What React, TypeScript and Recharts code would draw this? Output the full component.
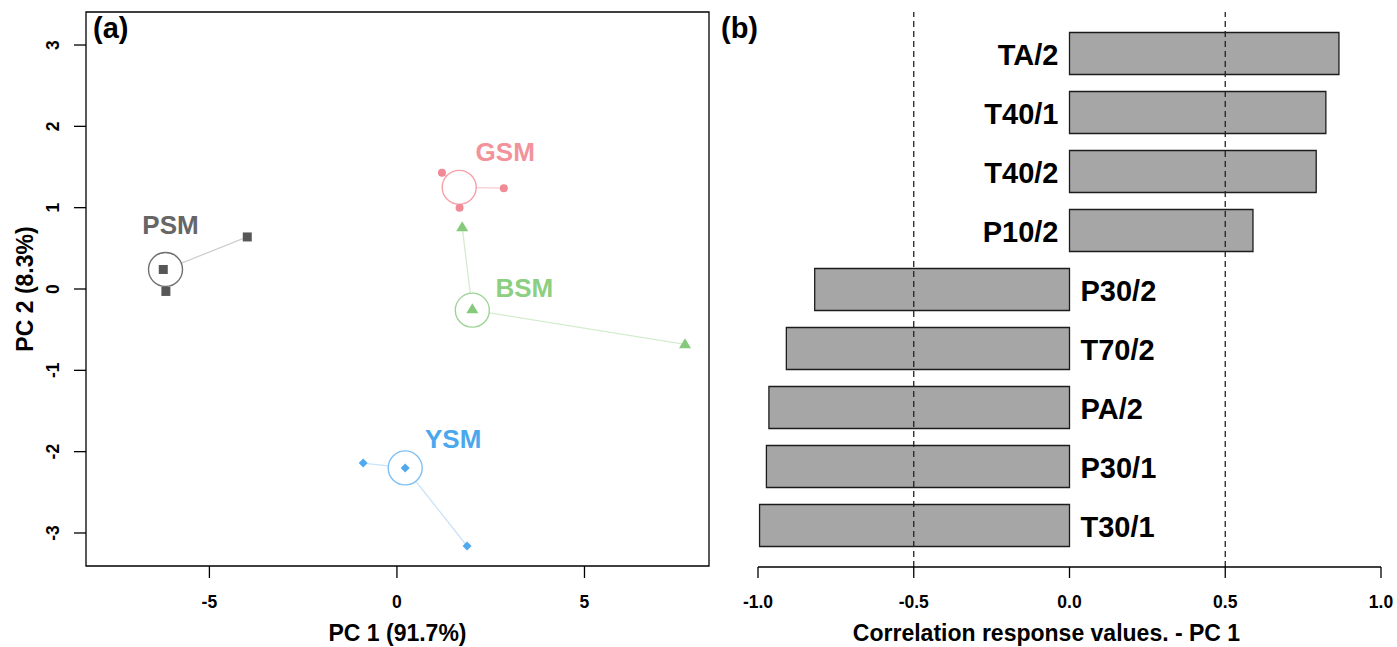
import React from "react";
import {
  ScatterChart, Scatter, XAxis, YAxis, ReferenceArea,
  BarChart, Bar, LabelList, ReferenceLine,
} from "recharts";

const FONT = '"Liberation Sans", Arial, Helvetica, sans-serif';

// (a) PCA scores (PC 1, PC 2) per group
const groupNames = ["PSM", "GSM", "BSM", "YSM"];
const groupCenters = [[-6.17, 0.24], [1.66, 1.25], [2.01, -0.26], [0.22, -2.2]];
const psmScores = [[-6.23, 0.24], [-6.16, -0.03], [-3.99, 0.64]];
const gsmScores = [[1.2, 1.43], [1.67, 1.0], [2.85, 1.24]];
const bsmScores = [[2.01, -0.25], [1.74, 0.76], [7.68, -0.68]];
const ysmScores = [[0.22, -2.2], [-0.9, -2.14], [1.87, -3.16]];
const pc1Ticks = [-5, 0, 5];
const pc2Ticks = [-3, -2, -1, 0, 1, 2, 3];

// (b) correlation of each variable with PC 1
const variables = ["TA/2", "T40/1", "T40/2", "P10/2", "P30/2", "T70/2", "PA/2", "P30/1", "T30/1"];
const correlations = [0.865, 0.823, 0.792, 0.589, -0.818, -0.909, -0.965, -0.973, -0.995];
const corrTicks = [-1, -0.5, 0, 0.5, 1];
const cutoffs = [-0.5, 0.5];

const groupScores = [psmScores, gsmScores, bsmScores, ysmScores];

// look of each group: colours, marker, where the name sits (px from the ring)
const groupStyle: Record<string, any> = {
  PSM: { point: "#575757", ring: "#707070", spoke: "#cfcfcf", text: "#666666", marker: "square", dx: 5, dy: -45 },
  GSM: { point: "#f08a94", ring: "#f4a1a8", spoke: "#f9cbcf", text: "#f3929a", marker: "circle", dx: 46, dy: -36 },
  BSM: { point: "#85c97b", ring: "#9dd495", spoke: "#d5ecd0", text: "#8ccf81", marker: "triangle", dx: 52, dy: -23 },
  YSM: { point: "#4fa9ef", ring: "#7fc0f3", spoke: "#cbe3f8", text: "#4ca8ee", marker: "diamond", dx: 48, dy: -29 },
};

const TICK_FS = 17.5;
const TITLE_FS = 23;

const toPts = (arr: number[][]) => arr.map(([x, y]) => ({ x, y }));

function Marker({ cx, cy, kind, color }: any) {
  if (cx == null || cy == null) return <g />;
  switch (kind) {
    case "square":
      return <rect x={cx - 4.5} y={cy - 4.5} width={9} height={9} fill={color} />;
    case "circle":
      return <circle cx={cx} cy={cy} r={4} fill={color} />;
    case "triangle":
      return <path d={`M${cx},${cy - 6}L${cx + 6},${cy + 4}L${cx - 6},${cy + 4}Z`} fill={color} />;
    default:
      return <path d={`M${cx},${cy - 4.5}L${cx + 4.5},${cy}L${cx},${cy + 4.5}L${cx - 4.5},${cy}Z`} fill={color} />;
  }
}

const XTickA = ({ x, y, payload }: any) => (
  <text x={x} y={y + 30} textAnchor="middle" fontSize={TICK_FS} fontWeight="bold" fill="#000" fontFamily={FONT}>
    {payload.value}
  </text>
);

const YTickA = ({ x, y, payload }: any) => (
  <text x={x - 15} y={y} transform={`rotate(-90 ${x - 15} ${y})`} textAnchor="middle"
    fontSize={TICK_FS} fontWeight="bold" fill="#000" fontFamily={FONT}>
    {payload.value}
  </text>
);

function ScoresPanel() {
  const xDomain = [-8.29, 8.32];
  const yDomain = [-3.406, 3.406];
  return (
    <ScatterChart width={720} height={647} margin={{ top: 12, right: 11, bottom: 0, left: 0 }}>
      <XAxis type="number" dataKey="x" domain={xDomain} ticks={pc1Ticks} allowDataOverflow
        axisLine={false} tickLine={{ stroke: "#000", strokeWidth: 1.3 }} tickSize={12} tickMargin={0}
        height={81} tick={<XTickA />}
        label={{
          content: (p: any) => (
            <text x={p.viewBox.x + p.viewBox.width / 2} y={641} textAnchor="middle" fontSize={TITLE_FS}
              fontWeight="bold" fill="#000" fontFamily={FONT}>PC 1 (91.7%)</text>
          ),
        }} />
      <YAxis type="number" dataKey="y" domain={yDomain} ticks={pc2Ticks} allowDataOverflow
        axisLine={false} tickLine={{ stroke: "#000", strokeWidth: 1.3 }} tickSize={12} tickMargin={0}
        width={86} tick={<YTickA />}
        label={{
          content: () => (
            <text x={33} y={289} transform="rotate(-90 33 289)" textAnchor="middle" fontSize={TITLE_FS}
              fontWeight="bold" fill="#000" fontFamily={FONT}>PC 2 (8.3%)</text>
          ),
        }} />
      <ReferenceArea x1={xDomain[0]} x2={xDomain[1]} y1={yDomain[0]} y2={yDomain[1]}
        fill="none" stroke="#000" strokeWidth={1.3} fillOpacity={0} ifOverflow="visible" />

      {groupNames.map((g, i) => {
        const c = { x: groupCenters[i][0], y: groupCenters[i][1] };
        const spokes = toPts(groupScores[i]).flatMap((p) => [c, p]);
        return (
          <Scatter key={`spk-${g}`} data={spokes} isAnimationActive={false}
            line={{ stroke: groupStyle[g].spoke, strokeWidth: 1.3 }} lineType="joint" shape={() => <g />} />
        );
      })}

      {groupNames.map((g, i) => (
        <Scatter key={`ring-${g}`} data={[{ x: groupCenters[i][0], y: groupCenters[i][1] }]} isAnimationActive={false}
          shape={(p: any) => (
            <g>
              <circle cx={p.cx} cy={p.cy} r={17} fill="#fff" stroke={groupStyle[g].ring} strokeWidth={1.4} />
              <text x={p.cx + groupStyle[g].dx} y={p.cy + groupStyle[g].dy + 9.5} textAnchor="middle"
                fontSize={26} fontWeight="bold" fill={groupStyle[g].text} fontFamily={FONT}>{g}</text>
            </g>
          )} />
      ))}

      {groupNames.map((g, i) => (
        <Scatter key={`pts-${g}`} data={toPts(groupScores[i])} isAnimationActive={false}
          shape={(p: any) => <Marker cx={p.cx} cy={p.cy} kind={groupStyle[g].marker} color={groupStyle[g].point} />} />
      ))}
    </ScatterChart>
  );
}

const XTickB = ({ x, y, payload }: any) => (
  <text x={x} y={y + 30} textAnchor="middle" fontSize={TICK_FS} fontWeight="bold" fill="#000" fontFamily={FONT}>
    {Number(payload.value).toFixed(1)}
  </text>
);

function VarLabel(props: any) {
  const vb = props.viewBox && props.viewBox.width != null ? props.viewBox : props;
  const x = Number(vb.x), w = Number(vb.width), y = Number(vb.y), h = Number(vb.height);
  const idx = variables.indexOf(props.value);
  const v = correlations[idx];
  const zero = v >= 0 ? Math.min(x, x + w) : Math.max(x, x + w);
  const cy = Math.min(y, y + h) + Math.abs(h) / 2;
  return (
    <text x={v >= 0 ? zero - 11 : zero + 11} y={cy + 11} textAnchor={v >= 0 ? "end" : "start"}
      fontSize={29} fontWeight="bold" fill="#000" fontFamily={FONT}>
      {props.value}
    </text>
  );
}

function CorrelationPanel() {
  const data = variables.map((name, i) => ({ name, value: correlations[i] }));
  return (
    <BarChart width={677} height={647} layout="vertical" data={data}
      margin={{ top: 12, right: 16, bottom: 0, left: 38 }}>
      <XAxis type="number" dataKey="value" domain={[-1, 1]} ticks={corrTicks} allowDataOverflow
        axisLine={{ stroke: "#000", strokeWidth: 1.3 }} tickLine={{ stroke: "#000", strokeWidth: 1.3 }}
        tickSize={11} tickMargin={0} height={80} tick={<XTickB />}
        label={{
          content: (p: any) => (
            <text x={p.viewBox.x + p.viewBox.width / 2 - 23} y={641} textAnchor="middle" fontSize={TITLE_FS}
              fontWeight="bold" fill="#000" fontFamily={FONT}>Correlation response values. - PC 1</text>
          ),
        }} />
      <YAxis type="category" dataKey="name" hide padding={{ top: 11.5, bottom: 12.5 }} />
      <Bar dataKey="value" fill="#a6a6a6" stroke="#1c1c1c" strokeWidth={1.3} barSize={42} isAnimationActive={false}>
        <LabelList dataKey="name" content={<VarLabel />} />
      </Bar>
      {cutoffs.map((c) => (
        <ReferenceLine key={c} x={c} stroke="#222" strokeWidth={1.3} strokeDasharray="6 4" />
      ))}
    </BarChart>
  );
}

export default function App() {
  return (
    <div style={{ position: "absolute", left: 0, top: 0, width: 1397, height: 647, background: "#fff", fontFamily: FONT }}>
      <div style={{ position: "absolute", left: 0, top: 0 }}>
        <ScoresPanel />
      </div>
      <div style={{ position: "absolute", left: 720, top: 0 }}>
        <CorrelationPanel />
      </div>
      <span style={{ position: "absolute", left: 93, top: 13.5, fontSize: 29, lineHeight: "29px", fontWeight: "bold" }}>(a)</span>
      <span style={{ position: "absolute", left: 721, top: 13.5, fontSize: 29, lineHeight: "29px", fontWeight: "bold" }}>(b)</span>
    </div>
  );
}
